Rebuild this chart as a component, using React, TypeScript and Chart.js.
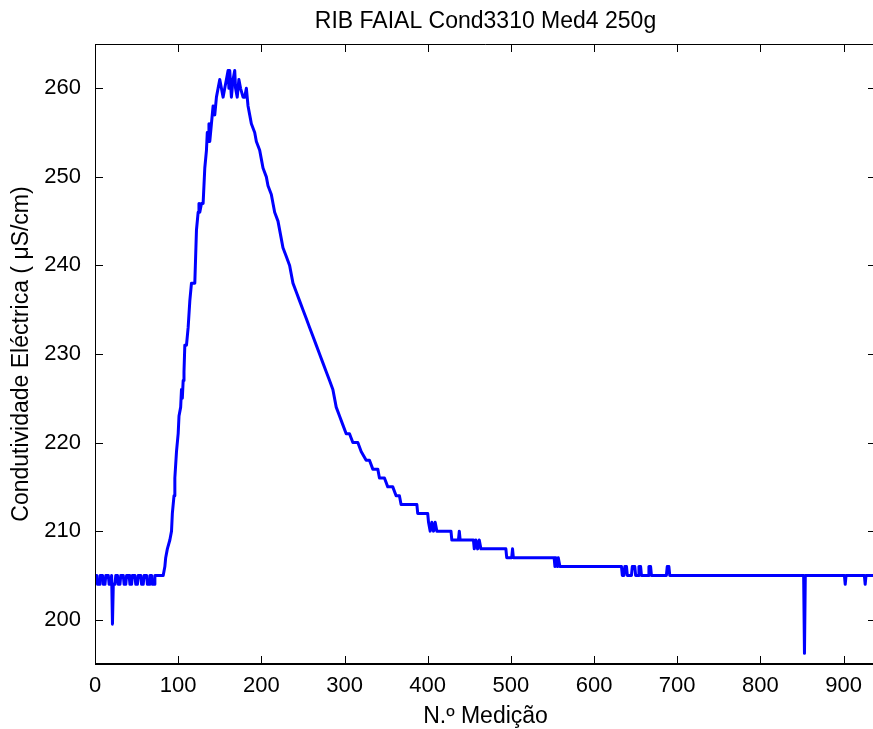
import { useEffect, useRef } from "react";
import { Chart, registerables } from "chart.js";

Chart.register(...registerables);

const TITLE = "RIB FAIAL Cond3310 Med4 250g";
const X_LABEL = "N.º Medição";
const Y_LABEL = "Condutividade Eléctrica ( μS/cm)";

const X_TICKS = [0, 100, 200, 300, 400, 500, 600, 700, 800, 900];
const Y_TICKS = [200, 210, 220, 230, 240, 250, 260];
const X_MIN = 0;
const X_MAX = 939;
const Y_MIN = 195;
const Y_MAX = 265;

const sampleIndex = [
  0, 2, 3, 5, 6, 9, 10, 12, 13, 16, 17, 19, 20, 21, 22, 24, 25, 27, 28, 30,
  31, 34, 35, 37, 38, 41, 42, 44, 45, 48, 49, 51, 52, 55, 56, 58, 59, 62, 63, 65,
  66, 68, 69, 71, 72, 82,
  84, 85, 87, 90, 92, 93, 95, 96, 98, 100, 101, 103, 104, 105, 106, 107, 108, 110, 112, 114,
  116, 120, 121, 122, 124, 125, 126, 128, 130, 132, 134, 135, 136, 137, 138, 140, 142, 144, 146, 148,
  150, 152, 154, 156, 158, 160, 161, 162, 164, 166, 168, 169, 171, 173, 175, 178, 180, 182, 184, 186,
  188, 192, 194, 198, 200, 202, 206, 208, 212, 216, 220, 224, 226, 230, 234, 238, 242, 246, 250, 254,
  258, 262, 266, 270, 274, 278, 282, 286, 290, 294, 298, 302, 306, 310, 316, 320, 326, 330, 334, 340,
  342, 348, 352, 358, 362, 366, 368, 387, 388, 400, 401, 403, 405, 407, 409, 411, 414, 428, 429, 437,
  438, 439, 455, 456, 458, 460, 462, 464, 494, 495, 501, 502, 503, 552, 553, 554, 556, 557, 559, 633,
  634, 636, 637, 639, 640, 645, 646, 649, 650, 653, 654, 656, 657, 665, 666, 668, 669, 687, 688, 690,
  691, 852, 853, 854, 901, 902, 903, 925, 926, 927, 936,
];

// Electrical conductivity (µS/cm)
const conductivity = [
  205, 205, 204, 204, 205, 205, 204, 204, 205, 205, 204, 204, 205, 199.5, 204, 204, 205, 205, 204, 204,
  205, 205, 204, 204, 205, 205, 204, 204, 205, 205, 204, 204, 205, 205, 204, 204, 205, 205, 204, 204,
  205, 205, 204, 204, 205, 205,
  206, 207, 208, 209, 210, 212, 214, 216, 219, 221, 223, 224, 226, 225, 227, 228, 231, 231, 233, 236,
  238, 238, 241, 244, 246, 247, 246, 247, 247, 251, 253, 255, 254, 256, 254, 256, 258, 257, 259, 260,
  261, 260, 259, 260, 261, 262, 260, 262, 259, 261, 262, 260, 259, 261, 260, 259, 259, 260, 258, 257,
  256, 255, 254, 253, 252, 251, 250, 249, 248, 246, 245, 243, 242, 241, 240, 238, 237, 236, 235, 234,
  233, 232, 231, 230, 229, 228, 227, 226, 224, 223, 222, 221, 221, 220, 220, 219, 218, 218, 217, 217,
  216, 216, 215, 215, 214, 214, 213, 213, 212, 212, 211, 210, 211, 210, 211, 210, 210, 210, 209, 209,
  210, 209, 209, 208, 209, 208, 209, 208, 208, 207, 207, 208, 207, 207, 206, 207, 206, 207, 206, 206,
  205, 205, 206, 206, 205, 205, 206, 206, 205, 205, 206, 206, 205, 205, 206, 206, 205, 205, 206, 206,
  205, 205, 196.2, 205, 205, 204, 205, 205, 204, 205, 205,
];

const FONT_FAMILY = '"Liberation Sans", Arial, Helvetica, sans-serif';
const TICK_SIZE = 22;
const LABEL_SIZE = 23;

const framePlugin = {
  id: "matlabFrame",
  afterDraw(chart: any) {
    const { ctx, chartArea } = chart;
    const { left, right, top, bottom } = chartArea;
    const sx = chart.scales.x;
    const sy = chart.scales.y;
    const tick = 8;
    ctx.save();
    ctx.strokeStyle = "#000";
    ctx.lineWidth = 1;
    ctx.beginPath();
    ctx.moveTo(left + 0.5, top + 0.5);
    ctx.lineTo(right, top + 0.5);
    ctx.moveTo(left + 0.5, top);
    ctx.lineTo(left + 0.5, bottom);
    ctx.moveTo(right - 0.5, top);
    ctx.lineTo(right - 0.5, bottom);
    for (const v of X_TICKS) {
      const px = Math.round(sx.getPixelForValue(v)) + 0.5;
      ctx.moveTo(px, bottom);
      ctx.lineTo(px, bottom - tick);
      ctx.moveTo(px, top);
      ctx.lineTo(px, top + tick);
    }
    for (const v of Y_TICKS) {
      const py = Math.round(sy.getPixelForValue(v)) + 0.5;
      ctx.moveTo(left, py);
      ctx.lineTo(left + tick, py);
      ctx.moveTo(right, py);
      ctx.lineTo(right - tick, py);
    }
    ctx.stroke();
    ctx.lineWidth = 2;
    ctx.beginPath();
    ctx.moveTo(left, bottom);
    ctx.lineTo(right, bottom);
    ctx.stroke();
    // title
    ctx.fillStyle = "#000";
    ctx.font = `${LABEL_SIZE}px ${FONT_FAMILY}`;
    ctx.textAlign = "center";
    ctx.textBaseline = "alphabetic";
    ctx.fillText(TITLE, (left + right) / 2, 28);
    ctx.restore();
  },
};

export default function App() {
  const canvasRef = useRef<HTMLCanvasElement | null>(null);

  useEffect(() => {
    const canvas = canvasRef.current;
    if (!canvas) return;
    const points = sampleIndex.map((x, i) => ({ x, y: conductivity[i] }));
    const tickFont = { family: FONT_FAMILY, size: TICK_SIZE };
    const labelFont = { family: FONT_FAMILY, size: LABEL_SIZE };
    const chart = new Chart(canvas, {
      type: "line",
      data: {
        datasets: [
          {
            data: points,
            borderColor: "#0000FF",
            borderWidth: 3,
            pointRadius: 0,
            tension: 0,
            fill: false,
            borderJoinStyle: "round",
            borderCapStyle: "round",
          },
        ],
      },
      options: {
        responsive: false,
        devicePixelRatio: 1,
        animation: false,
        parsing: false,
        layout: { padding: { top: 44, left: 0, right: 0, bottom: 0 } },
        plugins: {
          legend: { display: false },
          tooltip: { enabled: false },
          title: { display: false },
        },
        scales: {
          x: {
            type: "linear",
            min: X_MIN,
            max: X_MAX,
            afterBuildTicks: (s: any) => {
              s.ticks = X_TICKS.map((v) => ({ value: v }));
            },
            afterFit: (s: any) => {
              s.height = 65;
            },
            grid: { display: false, drawTicks: false },
            border: { display: false },
            ticks: {
              color: "#000",
              font: tickFont,
              padding: 9,
              maxRotation: 0,
              autoSkip: false,
              callback: (v: any) => String(v),
            },
            title: {
              display: true,
              text: X_LABEL,
              color: "#000",
              font: labelFont,
              padding: { top: 0, bottom: -1 },
            },
          },
          y: {
            type: "linear",
            min: Y_MIN,
            max: Y_MAX,
            afterBuildTicks: (s: any) => {
              s.ticks = Y_TICKS.map((v) => ({ value: v }));
            },
            afterFit: (s: any) => {
              s.width = 95;
            },
            grid: { display: false, drawTicks: false },
            border: { display: false },
            ticks: {
              color: "#000",
              font: tickFont,
              padding: 14,
              autoSkip: false,
              callback: (v: any) => String(v),
            },
            title: {
              display: true,
              text: Y_LABEL,
              color: "#000",
              font: labelFont,
              padding: { top: 8, bottom: 0 },
            },
          },
        },
      },
      plugins: [framePlugin],
    } as any);
    return () => chart.destroy();
  }, []);

  return (
    <div
      style={{
        position: "absolute",
        left: 0,
        top: 0,
        width: 873,
        height: 729,
        overflow: "hidden",
        background: "#fff",
      }}
    >
      <canvas ref={canvasRef} width={876} height={729} style={{ display: "block" }} />
    </div>
  );
}
